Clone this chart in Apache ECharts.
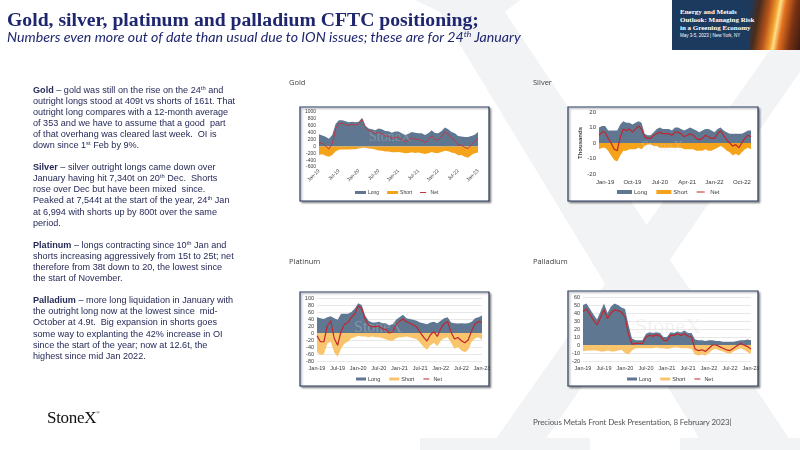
<!DOCTYPE html>
<html><head><meta charset="utf-8">
<script src="https://cdn.jsdelivr.net/npm/echarts/dist/echarts.min.js"></script>
<style>
html,body{margin:0;padding:0;width:800px;height:450px;overflow:hidden;background:#fff;}
#chart{position:absolute;left:0;top:0;width:800px;height:450px;}
.t{position:absolute;white-space:pre;pointer-events:none;}
#title{left:7px;top:7px;font:bold 19.7px 'Liberation Serif',serif;line-height:24px;color:#1f2670;}
#sub{left:7px;top:28px;font:italic 14.2px Lato,sans-serif;line-height:17px;color:#1f2670;}
#sub sup,#txt sup{line-height:0;}
#sub sup{font-size:8.5px;vertical-align:5px;}
#txt{left:33px;top:84.5px;font:9.1px 'Liberation Sans',Arial,sans-serif;line-height:11.1px;color:#262a58;}
#txt sup{font-size:5.8px;vertical-align:3px;}
#banner{position:absolute;left:672px;top:0;width:128px;height:50px;background:#1c3a5e;overflow:hidden;}
#fire{position:absolute;left:78px;top:0;width:50px;height:50px;background:linear-gradient(100deg,#1c3a5e 0%,#4a2c1c 18%,#b8541a 35%,#f6a531 48%,#fde08a 53%,#e4701e 62%,#7a3214 80%,#3a1a10 100%);}
.bt{position:absolute;left:8px;color:#fff;font:bold 7px 'Liberation Serif',serif;white-space:pre;}
#footer{left:533px;top:417px;font:8px Lato,sans-serif;color:#555;letter-spacing:-0.15px;}
#logo{left:47px;top:408px;font:17px 'Liberation Serif',serif;color:#111;letter-spacing:-0.3px;}
#logo sup{font-size:5px;vertical-align:9px;line-height:0;}
</style></head><body>
<div id="chart"></div>
<div class="t" id="title">Gold, silver, platinum and palladium CFTC positioning;</div>
<div class="t" id="sub">Numbers even more out of date than usual due to ION issues; these are for 24<sup>th</sup> January</div>
<div class="t" id="txt"><b>Gold</b> – gold was still on the rise on the 24<sup>th</sup> and
outright longs stood at 409t vs shorts of 161t. That
outright long compares with a 12-month average
of 353 and we have to assume that a good  part
of that overhang was cleared last week.  OI is
down since 1<sup>st</sup> Feb by 9%.

<b>Silver</b> – silver outright longs came down over
January having hit 7,340t on 20<sup>th</sup> Dec.  Shorts
rose over Dec but have been mixed  since.
Peaked at 7,544t at the start of the year, 24<sup>th</sup> Jan
at 6,994 with shorts up by 800t over the same
period.

<b>Platinum</b> – longs contracting since 10<sup>th</sup> Jan and
shorts increasing aggressively from 15t to 25t; net
therefore from 38t down to 20, the lowest since
the start of November.

<b>Palladium</b> – more long liquidation in January with
the outright long now at the lowest since  mid-
October at 4.9t.  Big expansion in shorts goes
some way to explanting the 42% increase in OI
since the start of the year; now at 12.6t, the
highest since mid Jan 2022.</div>
<div id="banner"><div id="fire"></div>
<div class="bt" style="top:8px">Energy and Metals</div>
<div class="bt" style="top:16px">Outlook: Managing Risk</div>
<div class="bt" style="top:24px">in a Greening Economy</div>
<div class="bt" style="top:33px;font:4.5px 'Liberation Sans',sans-serif">May 3-5, 2023 | New York, NY</div>
</div>
<div class="t" id="logo">StoneX<sup>®</sup></div>
<div class="t" id="footer">Precious Metals Front Desk Presentation, 8 February 2023|</div>
<script>
// ---- categories ----
const monthCats = ['Jan-19','Feb-19','Mar-19','Apr-19','May-19','Jun-19','Jul-19','Aug-19','Sep-19','Oct-19','Nov-19','Dec-19',
 'Jan-20','Feb-20','Mar-20','Apr-20','May-20','Jun-20','Jul-20','Aug-20','Sep-20','Oct-20','Nov-20','Dec-20',
 'Jan-21','Feb-21','Mar-21','Apr-21','May-21','Jun-21','Jul-21','Aug-21','Sep-21','Oct-21','Nov-21','Dec-21',
 'Jan-22','Feb-22','Mar-22','Apr-22','May-22','Jun-22','Jul-22','Aug-22','Sep-22','Oct-22','Nov-22','Dec-22',
 'Jan-23'];
const silverCats = ['Nov-18','Dec-18','Jan-19','Feb-19','Mar-19','Apr-19','May-19','Jun-19','Jul-19','Aug-19','Sep-19','Oct-19','Nov-19','Dec-19',
 'Jan-20','Feb-20','Mar-20','Apr-20','May-20','Jun-20','Jul-20','Aug-20','Sep-20','Oct-20','Nov-20','Dec-20',
 'Jan-21','Feb-21','Mar-21','Apr-21','May-21','Jun-21','Jul-21','Aug-21','Sep-21','Oct-21','Nov-21','Dec-21',
 'Jan-22','Feb-22','Mar-22','Apr-22','May-22','Jun-22','Jul-22','Aug-22','Sep-22','Oct-22','Nov-22','Dec-22',
 'Jan-23'];
// ---- tick labels ----
const halfYearTicks = ['Jan-19','Jul-19','Jan-20','Jul-20','Jan-21','Jul-21','Jan-22','Jul-22','Jan-23'];
const silverTicks = ['Jan-19','Oct-19','Jul-20','Apr-21','Jan-22','Oct-22'];
// ---- Gold (tonnes) ----
const goldLong = [350,320,280,220,330,650,760,760,730,700,720,700, 720,830,600,520,500,470,520,500,450,440,400,430, 430,380,330,370,420,400,380,380,330,380,470,390, 380,450,550,500,420,380,300,290,270,270,300,340, 420];
const goldShort = [-250,-230,-270,-300,-250,-150,-100,-90,-90,-90,-80,-80, -60,-40,-40,-60,-70,-90,-120,-130,-150,-150,-170,-170, -160,-180,-200,-190,-170,-190,-180,-200,-220,-200,-160,-190, -190,-160,-130,-140,-180,-200,-260,-250,-300,-330,-250,-200, -180];
const goldNet = [100,90,10,-80,80,500,660,670,640,610,640,620, 660,790,560,460,430,380,400,370,300,290,230,260, 270,200,130,180,250,210,200,180,110,180,310,200, 190,290,420,360,240,180,40,40,-30,-60,50,140, 240];
// ---- Silver (thousands) ----
const silverLong = [10,11,11,8,8,8,8,12,14,13,13,12,13,14,13,6,5,5,7,9,10,9,9,9,8,10,10,9,8,9,10,9,8,7,8,9,9,8,7,9,10,8,7,6,6,6,6,6,7,8,8];
const silverShort = [-4,-3,-3,-5,-8,-11,-12,-8,-5,-5,-4,-4,-4,-3,-4,-2,-1,-1,-2,-2,-3,-3,-3,-3,-3,-3,-3,-3,-4,-4,-4,-4,-5,-5,-5,-4,-5,-5,-4,-3,-2,-3,-5,-6,-8,-7,-8,-6,-4,-3,-4];
const silverNet = [5,7,7,3,0,-4,-5,4,9,8,9,7,9,11,9,4,3,3,5,6,7,6,6,6,5,7,7,6,4,5,6,5,3,2,3,5,4,3,3,6,8,5,2,0,-2,-1,-3,0,3,5,4];
// ---- Platinum ----
const platLong = [45,42,40,45,48,42,38,55,55,55,60,70, 85,80,50,35,30,30,32,28,28,22,25,38, 45,52,42,40,38,35,30,28,25,30,32,28, 35,42,45,30,28,27,28,27,28,32,42,45, 50];
const platShort = [-55,-63,-60,-30,-25,-55,-68,-45,-30,-25,-15,-12, -8,-10,-10,-12,-10,-12,-12,-15,-18,-22,-22,-15, -12,-12,-10,-12,-15,-18,-28,-40,-48,-35,-28,-38, -22,-15,-12,-28,-45,-40,-50,-55,-48,-25,-15,-12, -20];
const platNet = [-8,-25,-25,20,35,-15,-35,5,25,30,45,55, 77,70,40,22,18,18,20,12,10,0,3,23, 33,40,32,28,23,17,2,-12,-23,-5,4,-10, 13,27,33,2,-17,-13,-22,-28,-20,7,27,33, 30];
// ---- Palladium ----
const pallLong = [50,52,45,38,32,42,52,40,48,52,50,47, 45,25,8,6,6,6,14,16,15,16,15,10, 10,16,15,17,16,18,15,15,7,6,6,5, 6,6,5,5,4,4,4,4,5,6,6,7, 6];
const pallShort = [-8,-7,-7,-7,-7,-8,-8,-7,-8,-8,-7,-6, -10,-12,-7,-4,-4,-4,-4,-4,-4,-3,-4,-4, -5,-4,-3,-3,-4,-4,-4,-5,-12,-13,-12,-13, -10,-6,-5,-7,-8,-10,-11,-8,-6,-4,-6,-9, -11];
const pallNet = [42,45,38,31,25,34,44,33,40,44,43,41, 35,13,1,2,2,2,10,12,11,13,11,6, 5,12,12,14,12,14,11,10,-5,-7,-6,-8, -4,0,0,-2,-4,-6,-7,-4,-1,2,0,-2, -5];

const LONG='#5f7791', SHORT1='#f5a31a', SHORT2='#f8c46c', NET='#c1272d';
const FONT='Liberation Sans';
const TXT='#3a3a3a';

function xAx(i, cats, ticks, fs, rotate, margin){
  return {type:'category', gridIndex:i, data:cats, boundaryGap:false, z:3,
    axisLine:{show:false}, axisTick:{show:false}, splitLine:{show:false},
    axisLabel:{interval:(idx,val)=>ticks.includes(val), rotate:rotate, fontSize:fs, color:TXT, margin:margin, fontFamily:FONT, hideOverlap:false}};
}
function yAx(i,min,max,interval,fs,grid){
  return {type:'value', gridIndex:i, min:min, max:max, interval:interval, z:0,
    axisLine:{show:false}, axisTick:{show:false},
    splitLine:{show:grid, lineStyle:{color:'#e2e2e2', width:0.8}},
    axisLabel:{fontSize:fs, color:TXT, margin:3, fontFamily:FONT, formatter:v=>String(v)}};
}
function areaS(i,name,data,color){
  return {name:name, type:'line', xAxisIndex:i, yAxisIndex:i, data:data, symbol:'none', silent:true,
    lineStyle:{width:0}, itemStyle:{color:color}, areaStyle:{color:color, opacity:1}, z:2};
}
function lineS(i,name,data,color,w){
  return {name:name, type:'line', xAxisIndex:i, yAxisIndex:i, data:data, symbol:'none', silent:true,
    lineStyle:{width:w, color:color}, itemStyle:{color:color}, z:4};
}
const NETICON='path://M0,0h0.01v0.01h-0.01z M0,3.6h20v2.8h-20z M0,9.99h0.01v0.01h-0.01z';
function leg(i,left,top,fs,iw,ih,gap){
  return {left:left, top:top, itemWidth:iw, itemHeight:ih, itemGap:gap, selectedMode:false, padding:0,
    textStyle:{fontSize:fs, color:TXT, fontFamily:FONT, padding:[0,0,0,-3]},
    formatter:n=>n.split('|')[0],
    data:[{name:'Long|'+i, icon:'rect'},{name:'Short|'+i, icon:'rect'},{name:'Net|'+i, icon:NETICON}]};
}
function box(x,y,w,h){
  return {type:'rect', z:-1, shape:{x:x,y:y,width:w,height:h},
    style:{fill:'#fff', stroke:'#26365c', lineWidth:1.2, shadowBlur:2, shadowOffsetX:1.5, shadowOffsetY:1.5, shadowColor:'rgba(0,0,0,0.35)'}};
}
function label(x,y,t){
  return {type:'text', z:-1, x:x, y:y, style:{text:t, fontSize:7.5, fill:'#404040', fontFamily:'Open Sans', verticalAlign:'middle'}};
}
function wm(x,y,fs){
  return {type:'text', z:3, x:x, y:y, style:{text:'StoneX', fontSize:fs, fontFamily:'Liberation Serif', fill:'rgba(215,215,218,0.3)', align:'center', verticalAlign:'middle'}};
}
const WMC='#f2f3f5';
const option = {
  animation:false,
  grid:[
    {left:319, top:112, width:159, height:55},
    {left:599, top:112, width:152, height:62},
    {left:317, top:298, width:165, height:63},
    {left:583, top:297, width:168, height:64}
  ],
  xAxis:[
    xAx(0, monthCats, halfYearTicks, 5, 45, 3),
    xAx(1, silverCats, silverTicks, 6, 0, 5),
    xAx(2, monthCats, halfYearTicks, 5.5, 0, 4),
    xAx(3, monthCats, halfYearTicks, 5.5, 0, 4)
  ],
  yAxis:[
    yAx(0,-600,1000,200,5,false),
    Object.assign(yAx(1,-20,20,10,6,false), {name:'Thousands', nameLocation:'middle', nameGap:13, nameRotate:90, nameTextStyle:{fontSize:6, color:TXT, fontFamily:FONT, fontWeight:'bold'}}),
    yAx(2,-80,100,20,5.5,true),
    yAx(3,-20,60,10,5.5,true)
  ],
  legend:[
    leg(0,355,190,5,11,3,8),
    leg(1,617,189,6,15,4,9),
    leg(2,356,376,5.5,10,3,9),
    leg(3,627,376,5.5,10,3,9)
  ],
  series:[
    areaS(0,'Long|0',goldLong,LONG), areaS(0,'Short|0',goldShort,SHORT1), lineS(0,'Net|0',goldNet,'#c4343b',0.9),
    areaS(1,'Long|1',silverLong,LONG), areaS(1,'Short|1',silverShort,SHORT1), lineS(1,'Net|1',silverNet,NET,1.2),
    areaS(2,'Long|2',platLong,LONG), areaS(2,'Short|2',platShort,SHORT2), lineS(2,'Net|2',platNet,NET,1.2),
    areaS(3,'Long|3',pallLong,LONG), areaS(3,'Short|3',pallShort,SHORT2), lineS(3,'Net|3',pallNet,NET,1.2)
  ],
  graphic:[
    {type:'polygon', z:-3, shape:{points:[[415,0],[520,0],[505,12],[790,440],[700,440],[440,12]]}, style:{fill:WMC}},
    {type:'polygon', z:-3, shape:{points:[[770,50],[815,50],[545,440],[495,440]]}, style:{fill:WMC}},
    {type:'rect', z:-3, shape:{x:420,y:438,width:170,height:12}, style:{fill:WMC}},
    {type:'rect', z:-3, shape:{x:680,y:438,width:120,height:12}, style:{fill:WMC}},
    box(300,107,189,94), box(568,107,190,94), box(300,292,189,94), box(568,291,190,95),
    label(289,83,'Gold'), label(533,83,'Silver'), label(289,262,'Platinum'), label(533,262,'Palladium'),
    wm(390,137,14), wm(662,147,14), wm(378,328,16), wm(668,327,22)
  ]
};
const chart = echarts.init(document.getElementById('chart'), null, {renderer:'canvas'});
chart.setOption(option);
</script>
</body></html>
